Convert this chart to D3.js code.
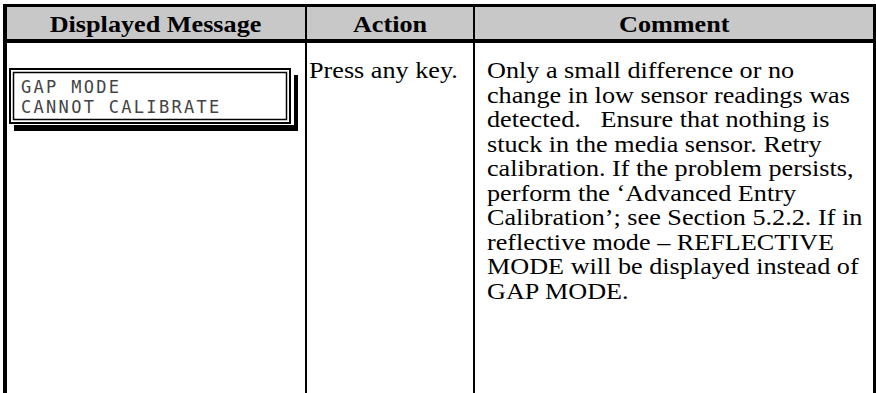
<!DOCTYPE html>
<html>
<head>
<meta charset="utf-8">
<script src="https://cdn.jsdelivr.net/npm/d3@7"></script>
<style>
  html, body { margin: 0; padding: 0; background: #ffffff; }
  svg { display: block; }
</style>
</head>
<body>
<svg id="chart" width="876" height="393"></svg>
<script>
// ---- content ----
const columns = ["Displayed Message", "Action", "Comment"];
const lcdLines = ["GAP MODE", "CANNOT CALIBRATE"];
const actionLines = ["Press any key."];
const commentLines = [
  "Only a small difference or no",
  "change in low sensor readings was",
  "detected.   Ensure that nothing is",
  "stuck in the media sensor. Retry",
  "calibration. If the problem persists,",
  "perform the \u2018Advanced Entry",
  "Calibration\u2019; see Section 5.2.2. If in",
  "reflective mode \u2013 REFLECTIVE",
  "MODE will be displayed instead of",
  "GAP MODE."
];

// ---- layout ----
const W = 876, H = 393;
const svg = d3.select("#chart");
const edges = [5, 306, 474, 874.5];        // column boundaries
const xCol = d3.scaleOrdinal().domain(columns).range(edges.slice(0, 3));
const xEnd = d3.scaleOrdinal().domain(columns).range(edges.slice(1));
const headTop = 5.5, headBot = 41;
const serif = "'Liberation Serif', 'Times New Roman', serif";
const fs = 23.5, sx = 1.115;

// header background
svg.append("rect").attr("x", edges[0]).attr("y", headTop)
  .attr("width", edges[3] - edges[0]).attr("height", headBot - headTop)
  .attr("fill", "#c8c8c8");

// header text
svg.selectAll("text.head").data(columns).join("text")
  .attr("class", "head")
  .attr("transform", d => `translate(${(xCol(d) + xEnd(d)) / 2},31.5) scale(${sx},1)`)
  .attr("text-anchor", "middle")
  .attr("font-family", serif)
  .attr("font-weight", "bold")
  .attr("font-size", fs)
  .attr("fill", "#000")
  .text(d => d);

// grid lines
const g = svg.append("g").attr("stroke", "#000");
g.append("line").attr("x1", 3).attr("x2", W).attr("y1", headTop).attr("y2", headTop).attr("stroke-width", 3);
g.append("line").attr("x1", 3).attr("x2", W).attr("y1", headBot).attr("y2", headBot).attr("stroke-width", 4);
g.append("line").attr("x1", edges[0]).attr("x2", edges[0]).attr("y1", 4).attr("y2", H).attr("stroke-width", 4);
g.append("line").attr("x1", edges[3]).attr("x2", edges[3]).attr("y1", 4).attr("y2", H).attr("stroke-width", 3);
[edges[1], edges[2]].forEach(x =>
  g.append("line").attr("x1", x).attr("x2", x).attr("y1", 4).attr("y2", H).attr("stroke-width", 2));

// LCD display box
const lcd = svg.append("g");
lcd.append("rect").attr("x", 14).attr("y", 75).attr("width", 284).attr("height", 56).attr("fill", "#000");
lcd.append("rect").attr("x", 8).attr("y", 67).attr("width", 286).attr("height", 58).attr("fill", "#fff");
lcd.append("rect").attr("x", 10).attr("y", 69).attr("width", 280).attr("height", 54)
  .attr("fill", "none").attr("stroke", "#000").attr("stroke-width", 2);
lcd.append("rect").attr("x", 13.5).attr("y", 72.5).attr("width", 273).attr("height", 47)
  .attr("fill", "none").attr("stroke", "#000").attr("stroke-width", 1.5);

lcd.selectAll("text").data(lcdLines).join("text")
  .attr("x", 21)
  .attr("y", (d, i) => 93 + i * 20)
  .attr("font-family", "'DejaVu Sans Mono', monospace")
  .attr("font-size", 17)
  .attr("letter-spacing", 2.3)
  .attr("fill", "#444")
  .style("white-space", "pre")
  .text(d => d);

// body text
const lineH = 24.5;
svg.selectAll("text.action").data(actionLines).join("text")
  .attr("class", "action")
  .attr("transform", (d, i) => `translate(${xCol("Action") + 3},${78 + i * lineH}) scale(${sx},1)`)
  .attr("font-family", serif).attr("font-size", fs).attr("fill", "#000")
  .text(d => d);

svg.selectAll("text.comment").data(commentLines).join("text")
  .attr("class", "comment")
  .attr("transform", (d, i) => `translate(${xCol("Comment") + 13},${78 + i * lineH}) scale(${sx},1)`)
  .attr("font-family", serif).attr("font-size", fs).attr("fill", "#000")
  .style("white-space", "pre")
  .text(d => d);
</script>
</body>
</html>
